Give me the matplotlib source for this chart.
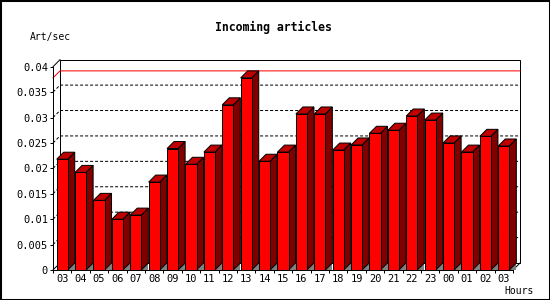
#!/usr/bin/env python
# coding=utf-8
import numpy as np
import matplotlib.pyplot as plt
from matplotlib.patches import Polygon, Rectangle

hours = ['03', '04', '05', '06', '07', '08', '09', '10', '11', '12', '13', '14', '15',
         '16', '17', '18', '19', '20', '21', '22', '23', '00', '01', '02', '03']
rate = [0.0218, 0.0192, 0.0137, 0.0100, 0.0108, 0.0173, 0.0239, 0.0208, 0.0232,
        0.0325, 0.0378, 0.0214, 0.0232, 0.0307, 0.0307, 0.0236, 0.0246, 0.0269,
        0.0275, 0.0303, 0.0295, 0.0250, 0.0232, 0.0263, 0.0244]
yticks = [0, 0.005, 0.01, 0.015, 0.02, 0.025, 0.03, 0.035, 0.04]
ylabels = ['0', '0.005', '0.01', '0.015', '0.02', '0.025', '0.03', '0.035', '0.04']

W, H = 550, 300
px = 0.72  # one pixel in points at dpi 100
mono = 'DejaVu Sans Mono'

fig = plt.figure(figsize=(W / 100, H / 100), dpi=100)
ax = fig.add_axes([53 / W, 30 / H, 460 / W, 203.3 / H])
x = np.arange(len(hours))
ax.set_xlim(-0.5, len(hours) - 0.5)
ax.set_ylim(0, 0.04)

# depth of the 3d effect: 7 px, expressed in data units
inv = ax.transData.inverted()
o = ax.transData.transform((0, 0))
dx, dy = inv.transform(o + np.array([7, 7]))
x0, x1 = -0.5, len(hours) - 0.5
ymax = max(rate)

# back wall
ax.add_patch(Rectangle((x0 + dx, dy), x1 - x0, 0.04, fill=False, ec='k', lw=px,
                       clip_on=False, zorder=1))
ax.plot([x0, x0 + dx], [0.04, 0.04 + dy], color='k', lw=px, clip_on=False, zorder=1)
ax.plot([x0, x0 + dx], [0, dy], color='k', lw=px, clip_on=False, zorder=1)
ax.plot([x1, x1 + dx], [0, dy], color='k', lw=px, clip_on=False, zorder=1)
for yt in yticks[1:-1]:
    ax.plot([x0, x0 + dx, x1 + dx], [yt, yt + dy, yt + dy], color='k', lw=px,
            linestyle=(0, (3, 2)), clip_on=False, zorder=1)
ax.plot([x0, x0 + dx, x1 + dx], [ymax, ymax + dy, ymax + dy], color='#ff0000', lw=px,
        clip_on=False, zorder=1.5)

# bars
w = 0.6
for i, v in enumerate(rate):
    xl, xr = x[i] - w / 2, x[i] + w / 2
    ax.add_patch(Polygon([(xr, 0), (xr + dx, 0), (xr + dx, dy)], closed=True,
                         fc='#808080', ec='none', zorder=2, clip_on=False))
    ax.add_patch(Polygon([(xr, 0), (xr + dx, dy), (xr + dx, v + dy), (xr, v)], closed=True,
                         fc='#800000', ec='k', lw=px, zorder=2, clip_on=False))
    ax.add_patch(Polygon([(xl, v), (xl + dx, v + dy), (xr + dx, v + dy), (xr, v)], closed=True,
                         fc='#c00000', ec='k', lw=px, zorder=2, clip_on=False))
ax.bar(x, rate, width=w, color='#ff0000', edgecolor='k', linewidth=px, zorder=3)

# axes
ax.patch.set_visible(False)
for s in ['top', 'right']:
    ax.spines[s].set_visible(False)
for s in ['left', 'bottom']:
    ax.spines[s].set_linewidth(px)
    ax.spines[s].set_zorder(4)
ax.set_yticks(yticks, ylabels, family=mono, fontsize=7.5)
ax.set_xticks(np.arange(x0, x1 + 0.5, 1))
ax.set_xticklabels([])
ax.set_xticks(x, hours, minor=True, family=mono, fontsize=7.5)
ax.tick_params(axis='both', which='major', direction='out', length=3 * px, width=px, pad=2 * px)
ax.tick_params(axis='x', which='minor', length=0, pad=4 * px)

fig.text(273.5 / W, 1 - 27.5 / H, 'Incoming articles', family=mono, fontweight='bold',
         fontsize=8.3, ha='center', va='center')
fig.text(30 / W, 1 - 37 / H, 'Art/sec', family=mono, fontsize=7, ha='left', va='center')
fig.text(534 / W, 1 - 291.5 / H, 'Hours', family=mono, fontsize=7, ha='right', va='center')

fig.patches.append(Rectangle((0, 0), 1, 1, transform=fig.transFigure, fill=False,
                             ec='k', lw=2.2))

plt.savefig('out.png', dpi=100)
